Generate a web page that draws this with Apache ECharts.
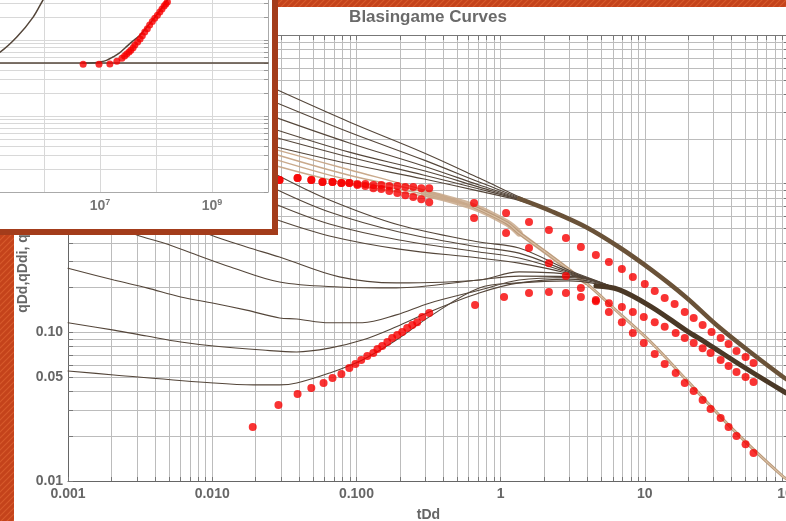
<!DOCTYPE html>
<html><head><meta charset="utf-8">
<script src="https://cdn.jsdelivr.net/npm/echarts@6/dist/echarts.min.js"></script>
<style>html,body{margin:0;padding:0;background:#fff}#c{width:786px;height:521px}</style>
</head><body><div id="c"></div>
<script>
// ---------- axis labels ----------
const xLabelValues = [0.001, 0.01, 0.1, 1, 10, 100];
const xLabelTexts  = ['0.001', '0.010', '0.100', '1', '10', '100'];
const yLabelValues = [0.01, 0.05, 0.1, 0.5, 1, 5, 10];
const yLabelTexts  = ['0.01', '0.05', '0.10', '0.50', '1', '5', '10'];
const insetXLabelValues = [1e7, 1e9];

// ---------- data: red points ----------
const R1 = [[0.0293,1.057],[0.0391,1.091],[0.0487,1.057],[0.0582,1.025],[0.0683,1.025],[0.0787,1.009],[0.0893,1.009],[0.1016,0.993],[0.1153,0.993],[0.1312,0.979],[0.1489,0.979],[0.1691,0.964],[0.1923,0.964],[0.2183,0.948],[0.2478,0.948],[0.2818,0.933],[0.3199,0.933],[0.6546,0.741],[1.091,0.634],[1.574,0.552],[2.163,0.488],[2.838,0.431],[3.605,0.375],[4.578,0.331],[5.636,0.297],[6.934,0.267],[8.26,0.236],[10.0,0.211],[11.72,0.190],[13.74,0.170],[16.1,0.155],[18.92,0.137],[21.83,0.125],[25.18,0.112],[29.04,0.1005],[33.57,0.0916],[38.11,0.0834],[43.25,0.0748],[49.98,0.0683],[56.75,0.0622]];
const R2 = [[0.0293,1.057],[0.0391,1.091],[0.0487,1.057],[0.0582,1.025],[0.0683,1.025],[0.0787,1.009],[0.0893,1.009],[0.1016,0.979],[0.1153,0.964],[0.1312,0.933],[0.1489,0.920],[0.1691,0.891],[0.1923,0.865],[0.2183,0.837],[0.2478,0.813],[0.2818,0.787],[0.3199,0.751],[0.6546,0.587],[1.091,0.466],[1.574,0.369],[2.163,0.292],[2.838,0.239],[3.605,0.199],[4.578,0.165],[5.636,0.137],[6.934,0.117],[8.26,0.0989],[9.84,0.0847],[11.72,0.0714],[13.74,0.0612],[16.37,0.0532],[18.92,0.0456],[21.83,0.0403],[25.18,0.0351],[28.58,0.0305],[33.57,0.0265],[38.11,0.0231],[43.25,0.0201],[49.98,0.0177],[56.75,0.0154]];
const R3 = [[0.0191,0.0231],[0.0288,0.0324],[0.0391,0.0385],[0.0487,0.0422],[0.0592,0.0456],[0.0683,0.0493],[0.0787,0.0525],[0.0893,0.0576],[0.0984,0.0612],[0.108,0.0652],[0.119,0.0693],[0.131,0.0727],[0.140,0.0773],[0.151,0.0809],[0.164,0.0861],[0.177,0.0916],[0.192,0.0959],[0.208,0.1005],[0.225,0.107],[0.244,0.112],[0.264,0.117],[0.286,0.127],[0.320,0.135],[0.665,0.153],[1.057,0.173],[1.574,0.184],[2.163,0.187],[2.838,0.184],[3.605,0.173],[4.578,0.162],[5.636,0.157],[6.934,0.148],[8.26,0.137],[9.84,0.127],[11.72,0.117],[13.74,0.109],[16.37,0.0989],[18.92,0.0916],[21.83,0.0847],[25.18,0.0783],[28.58,0.0726],[33.57,0.0652],[38.11,0.0593],[43.25,0.0541],[49.98,0.0500],[56.75,0.0463]];

// ---------- data: type curves ----------
const T1 = [[0.0284,4.26],[0.0893,2.60],[0.295,1.61],[0.710,1.091],[1.343,0.815]];
const T2 = [[0.0284,3.48],[0.0893,2.22],[0.295,1.44],[0.710,1.025],[1.343,0.805]];
const T3 = [[0.0284,2.76],[0.0893,1.88],[0.295,1.31],[0.710,0.979],[1.343,0.795]];
const T4 = [[0.0284,2.29],[0.0893,1.63],[0.295,1.22],[0.710,0.948],[1.343,0.787]];
const T5 = [[0.0284,2.03],[0.0893,1.51],[0.295,1.14],[0.710,0.920],[1.343,0.780]];
const T6 = [[0.0284,1.76],[0.0893,1.36],[0.295,1.074],[0.710,0.891],[1.343,0.772]];
const topStem = [[2.27,0.650],[3.90,0.511],[6.61,0.375],[11.17,0.262],[19.2,0.173],[32.5,0.109],[54.9,0.0726],[93.1,0.0493],[100,0.0475]];
const topBand = [[1.343,0.792],[2.27,0.650],[3.90,0.511],[6.61,0.375],[11.17,0.262],[19.2,0.173],[32.5,0.109],[54.9,0.0726],[93.1,0.0493],[100,0.0475]];

const N1 = [[0.0284,1.68],[0.0893,1.24],[0.295,0.906]];
const N2 = [[0.0284,1.56],[0.0893,1.14],[0.295,0.88]];
const N3 = [[0.0284,1.44],[0.0893,1.057],[0.295,0.85]];
const N4 = [[0.0284,1.31],[0.0893,0.993],[0.295,0.826]];
const tanStem = [[0.6546,0.697],[1.109,0.543],[1.343,0.466],[2.27,0.321],[3.90,0.215],[6.61,0.135],[11.17,0.0847],[19.5,0.0477],[41.3,0.0220],[91.6,0.01064],[100,0.0102]];
const tanBandWide = [[0.295,0.865],[0.6546,0.697],[1.109,0.543],[1.343,0.466]];
const tanBandMid = [[1.109,0.543],[1.343,0.466],[2.27,0.321],[3.90,0.215]];

const D1 = [[0.001,0.0550],[0.00208,0.0517],[0.01023,0.0456],[0.0194,0.0443],[0.0293,0.0443],[0.0385,0.0456],[0.0650,0.0532],[0.110,0.0652],[0.189,0.0887],[0.320,0.127],[0.710,0.199],[1.343,0.215],[2.98,0.222]];
const D2 = [[0.001,0.116],[0.00208,0.1035],[0.00352,0.0944],[0.00605,0.0861],[0.01023,0.0809],[0.0223,0.0760],[0.0385,0.0738],[0.0650,0.0783],[0.110,0.0887],[0.189,0.109],[0.320,0.137],[0.710,0.184],[1.343,0.215],[2.98,0.228]];
const D3 = [[0.001,0.270],[0.00208,0.225],[0.00352,0.199],[0.00605,0.173],[0.01023,0.157],[0.0173,0.141],[0.0293,0.125],[0.0385,0.123],[0.0650,0.116],[0.110,0.116],[0.189,0.131],[0.320,0.157],[0.710,0.192],[1.343,0.225],[2.98,0.234]];
const D4 = [[0.0026,0.49],[0.0030,0.451],[0.00461,0.399],[0.00782,0.331],[0.0134,0.275],[0.0293,0.218],[0.0762,0.202],[0.189,0.199],[0.710,0.225],[1.343,0.239],[2.98,0.238]];
const D5 = [[0.0085,0.49],[0.00977,0.451],[0.0173,0.375],[0.0293,0.321],[0.0762,0.236],[0.189,0.215],[0.710,0.225],[1.343,0.255],[2.98,0.244]];
const D6 = [[0.0284,1.14],[0.0650,0.777],[0.198,0.527],[0.710,0.405],[1.343,0.369],[2.98,0.262]];
const D7 = [[0.0284,0.906],[0.0650,0.644],[0.198,0.473],[0.710,0.375],[1.343,0.341],[2.98,0.256]];
const D8 = [[0.0284,0.718],[0.0650,0.535],[0.198,0.418],[0.710,0.347],[1.343,0.316],[2.98,0.252]];
const D9 = [[0.0284,0.569],[0.0650,0.445],[0.198,0.363],[0.710,0.316],[1.343,0.292],[2.98,0.248]];
const midStem = [[6.61,0.194],[11.17,0.148],[19.2,0.1035],[26.8,0.0847],[46.1,0.0603],[93.1,0.0397],[100,0.0386]];
const midBand = [[4.58,0.205],[6.61,0.194],[11.17,0.148],[19.2,0.1035],[26.8,0.0847],[46.1,0.0603],[93.1,0.0397],[100,0.0386]];

// ---------- inset data ----------
const insetFlat = [[1e5,50],[1e10,50]];
const insetRise = [[5e6,50],[8e6,50.3],[1e7,51.5],[1.3e7,54],[1.7e7,59.7],[2.2e7,67],[2.8e7,78.5],[3.8e7,96],[5.2e7,116],[7e7,150],[9.6e7,200],[1.25e8,260],[1.6e8,336],[2.2e8,450]];
const insetLeft = [[1e5,58],[1.64e5,69],[3.3e5,110],[6.4e5,200],[9.6e5,336],[1.3e6,480]];
const insetDots = [[5.0e6,48],[9.6e6,48],[1.5e7,48.5],[2.0e7,52.7],[2.46e7,57.7],[2.75e7,61.5],[3.0e7,65.4],[3.3e7,69.5],[3.56e7,73.5],[3.9e7,79],[4.2e7,85.7],[4.7e7,94],[5.2e7,103],[5.7e7,114],[6.3e7,127],[7e7,141],[7.7e7,157],[8.6e7,175],[9.5e7,194],[1.06e8,212],[1.17e8,233],[1.28e8,256],[1.4e8,280],[1.5e8,298],[1.6e8,316]];

// ---------- tick lists ----------
function minorTicks(decades, last) {
  const out = [];
  decades.forEach(d => { for (let m = 1; m <= 9; m++) out.push(+(m * d).toPrecision(3)); });
  out.push(last);
  return out;
}
const xTicks = minorTicks([0.001, 0.01, 0.1, 1, 10], 100);
const yTicks = minorTicks([0.01, 0.1, 1], 10);
const insetYTicks = minorTicks([1, 10, 100], 1000);

function lookup(vals, texts, v) {
  let best = 0;
  vals.forEach((x, i) => { if (Math.abs(Math.log10(x) - Math.log10(v)) < Math.abs(Math.log10(vals[best]) - Math.log10(v))) best = i; });
  return texts[best];
}

function hatch(base, stripe) {
  const c = document.createElement('canvas'); c.width = 6; c.height = 6;
  const g = c.getContext('2d');
  g.fillStyle = base; g.fillRect(0, 0, 6, 6);
  g.strokeStyle = stripe; g.lineWidth = 1.2;
  g.beginPath(); g.moveTo(-1, 7); g.lineTo(7, -1); g.moveTo(-4, 4); g.lineTo(4, -4); g.moveTo(2, 10); g.lineTo(10, 2); g.stroke();
  return c;
}

const FONT = 'Liberation Sans, Arial, sans-serif';
const labelStyle = { color: '#666', fontWeight: 'bold', fontSize: 14, fontFamily: FONT };
const BROWN = '#54463a', TAN = '#c9a98b', DARK = '#4a3826';
const GRID = '#bcbcbc';

function line(data, color, width, z, xi, yi, opacity) {
  return { type: 'line', data, xAxisIndex: xi || 0, yAxisIndex: yi || 0, smooth: 0.35, symbol: 'none',
    lineStyle: { color, width, opacity: opacity == null ? 1 : opacity, cap: 'round' }, silent: true, z: z || 2, animation: false };
}

const series = [];
series.push(line(tanBandWide, TAN, 7, 3, 0, 0, 0.85));
series.push(line(tanBandMid, TAN, 4, 3, 0, 0, 0.9));
[N1, N2, N3, N4].forEach(d => series.push(line(d.concat(tanStem), TAN, 1.4, 3)));
series.push(line(tanStem, '#b99878', 3, 3));
series.push(line(tanStem, '#d9c0a6', 1.2, 3));
[T1, T2, T3, T4, T5, T6].forEach(d => series.push(line(d.concat(topStem), BROWN, 1.1, 4)));
series.push(line(topBand, '#6a5238', 4.5, 4));
[D1, D2, D3, D4, D5, D6, D7, D8, D9].forEach(d => series.push(line(d.concat(midStem), BROWN, 1.1, 4)));
series.push(line(midBand, DARK, 5, 4));
[R1, R2, R3].forEach(d => series.push({ type: 'scatter', data: d, symbolSize: 8, itemStyle: { color: '#f80000' }, silent: true, z: 6, animation: false }));
series.push(line(insetFlat, BROWN, 1.5, 115, 2, 2));
series.push(line(insetRise, BROWN, 1.5, 115, 2, 2));
series.push(line(insetLeft, BROWN, 1.5, 115, 2, 2));
series.push({ type: 'scatter', data: insetDots, xAxisIndex: 2, yAxisIndex: 2, symbolSize: 7, itemStyle: { color: '#f80000' }, silent: true, z: 116, animation: false });

const chart = echarts.init(document.getElementById('c'));
chart.setOption({
  animation: false,
  backgroundColor: '#fff',
  grid: [
    { left: 68, top: 35, width: 721, height: 446, outerBoundsMode: 'none', containLabel: false },
    { left: 68, top: 35, width: 721, height: 446, outerBoundsMode: 'none', containLabel: false },
    { left: -12, top: -36, width: 280, height: 228, outerBoundsMode: 'none', containLabel: false }
  ],
  xAxis: [
    { type: 'log', logBase: 10, min: 0.001, max: 100, gridIndex: 0, position: 'bottom',
      name: 'tDd', nameLocation: 'middle', nameGap: 27, nameTextStyle: { color: '#666', fontWeight: 'bold', fontSize: 14, fontFamily: FONT },
      axisLine: { show: true, lineStyle: { color: '#666', width: 1 } },
      axisTick: { show: true, inside: true, length: 4, customValues: xTicks, lineStyle: { color: '#777' } },
      axisLabel: { show: true, margin: 6, customValues: xLabelValues, formatter: v => lookup(xLabelValues, xLabelTexts, v), ...labelStyle },
      splitLine: { show: true, lineStyle: { color: GRID, width: 1 } }, minorTick: { show: false } },
    { type: 'log', logBase: 10, min: 0.001, max: 100, gridIndex: 1, position: 'top',
      axisLine: { show: true, lineStyle: { color: '#777', width: 1 } },
      axisTick: { show: true, inside: true, length: 5, customValues: xTicks, lineStyle: { color: '#777' } },
      axisLabel: { show: false }, splitLine: { show: false } },
    { type: 'log', logBase: 10, min: 1e5, max: 1e10, gridIndex: 2, position: 'bottom', z: 110,
      axisLine: { show: true, lineStyle: { color: '#aaa', width: 1 } },
      axisTick: { show: false },
      axisLabel: { show: true, margin: 6, customValues: insetXLabelValues,
        formatter: v => '{b|10}{s|' + Math.round(Math.log10(v)) + '}',
        rich: { b: { color: '#777', fontWeight: 'bold', fontSize: 14, fontFamily: FONT },
                s: { color: '#777', fontWeight: 'bold', fontSize: 9, fontFamily: FONT, padding: [0, 0, 8, 0] } } },
      splitLine: { show: true, lineStyle: { color: '#d8d8d8', width: 1 } } }
  ],
  yAxis: [
    { type: 'log', logBase: 10, min: 0.01, max: 10, gridIndex: 0, position: 'left',
      name: 'qDd,qDdi, qDdid', nameLocation: 'middle', nameGap: 38, nameRotate: 90, nameMoveOverlap: false,
      nameTextStyle: { color: '#666', fontWeight: 'bold', fontSize: 14, fontFamily: FONT },
      axisLine: { show: true, lineStyle: { color: '#666', width: 1 } },
      axisTick: { show: true, inside: true, length: 5, customValues: yTicks, lineStyle: { color: '#777' } },
      axisLabel: { show: true, margin: 5, customValues: yLabelValues, formatter: v => lookup(yLabelValues, yLabelTexts, v), ...labelStyle },
      splitLine: { show: true, lineStyle: { color: GRID, width: 1 } } },
    { type: 'log', logBase: 10, min: 0.01, max: 10, gridIndex: 1, position: 'right',
      axisLine: { show: true, lineStyle: { color: '#777' } },
      axisTick: { show: true, inside: true, length: 5, customValues: yTicks, lineStyle: { color: '#777' } },
      axisLabel: { show: false }, splitLine: { show: false } },
    { type: 'log', logBase: 10, min: 1, max: 1000, gridIndex: 2, position: 'right', z: 110,
      axisLine: { show: true, lineStyle: { color: '#aaa', width: 1 } },
      axisTick: { show: true, inside: true, length: 4, customValues: insetYTicks, lineStyle: { color: '#999' } },
      axisLabel: { show: false },
      splitLine: { show: true, lineStyle: { color: '#d8d8d8', width: 1 } } }
  ],
  series,
  graphic: [
    { type: 'rect', shape: { x: 0, y: 0, width: 272, height: 229 }, style: { fill: '#fff' }, z: 100, silent: true },
    { type: 'rect', shape: { x: 272, y: 0, width: 6, height: 235 }, style: { fill: '#a33c1b' }, z: 130, silent: true },
    { type: 'rect', shape: { x: 0, y: 229, width: 278, height: 6 }, style: { fill: '#a33c1b' }, z: 130, silent: true },
    { type: 'rect', shape: { x: 278, y: 0, width: 508, height: 7 }, style: { fill: { image: hatch('#c4431b', '#d65a2c'), repeat: 'repeat' } }, z: 130, silent: true },
    { type: 'rect', shape: { x: 0, y: 235, width: 14, height: 286 }, style: { fill: { image: hatch('#c4431b', '#d65a2c'), repeat: 'repeat' } }, z: 130, silent: true },
    { type: 'text', x: 428, y: 17, style: { text: 'Blasingame Curves', fill: '#6a6a6a', font: 'bold 17px ' + FONT, textAlign: 'center', textVerticalAlign: 'middle' }, z: 50, silent: true }
  ]
});
</script></body></html>
